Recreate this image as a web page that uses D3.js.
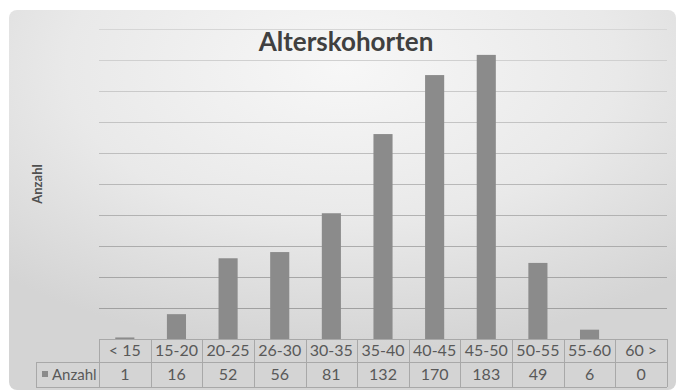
<!DOCTYPE html>
<html>
<head>
<meta charset="utf-8">
<script src="https://cdn.jsdelivr.net/npm/d3@7"></script>
<style>
  html, body { margin: 0; padding: 0; background: #ffffff; }
  svg { display: block; font-family: Lato, "Open Sans", sans-serif; }
</style>
</head>
<body>
<svg id="chart" width="679" height="392"></svg>
<script>
// Age cohorts and their counts
const categories = ["< 15", "15-20", "20-25", "26-30", "30-35", "35-40", "40-45", "45-50", "50-55", "55-60", "60 >"];
const counts = [1, 16, 52, 56, 81, 132, 170, 183, 49, 6, 0];
const seriesName = "Anzahl";
const yTicks = [20, 40, 60, 80, 100, 120, 140, 160, 180, 200];
const chartTitle = "Alterskohorten";
const axisTitle = "Anzahl";

const svg = d3.select("#chart");

// Chart area background: soft radial gradient, lighter near the title
const defs = svg.append("defs");
const grad = defs.append("radialGradient")
  .attr("id", "bg")
  .attr("cx", "50%").attr("cy", "15%").attr("r", "75%");
grad.append("stop").attr("offset", "0%").attr("stop-color", "#f7f7f7");
grad.append("stop").attr("offset", "55%").attr("stop-color", "#e9e9e9");
grad.append("stop").attr("offset", "100%").attr("stop-color", "#d4d4d4");

svg.append("rect")
  .attr("x", 9).attr("y", 10)
  .attr("width", 667).attr("height", 380)
  .attr("rx", 8)
  .attr("fill", "url(#bg)");

const plotLeft = 99, plotRight = 667, plotTop = 28.5, plotBottom = 339;

const x = d3.scaleBand().domain(categories).range([plotLeft, plotRight]).padding(0);
const y = d3.scaleLinear().domain([0, 200]).range([plotBottom, plotTop]);

// Horizontal gridlines, shading from light at the top to darker lower down
const lineColor = d3.scaleLinear().domain([200, 0]).range(["#d6d6d6", "#9a9a9a"]);
svg.append("g").selectAll("line")
  .data(yTicks)
  .join("line")
  .attr("x1", plotLeft).attr("x2", plotRight)
  .attr("y1", d => Math.round(y(d)) + 0.5)
  .attr("y2", d => Math.round(y(d)) + 0.5)
  .attr("stroke", d => lineColor(d))
  .attr("stroke-width", 1.2);

// Bars
const barW = x.bandwidth() * 0.37;
svg.append("g").selectAll("rect")
  .data(categories.map((c, i) => ({ c, v: counts[i] })))
  .join("rect")
  .attr("x", d => x(d.c) + (x.bandwidth() - barW) / 2)
  .attr("y", d => y(d.v))
  .attr("width", barW)
  .attr("height", d => y(0) - y(d.v))
  .attr("fill", "#8b8b8b");

// Title
svg.append("text")
  .attr("x", 346).attr("y", 51)
  .attr("text-anchor", "middle")
  .attr("font-size", 26).attr("font-weight", 700)
  .attr("fill", "#404040")
  .text(chartTitle);

// Vertical axis title
svg.append("text")
  .attr("transform", "translate(42,184) rotate(-90)")
  .attr("text-anchor", "middle")
  .attr("font-size", 13).attr("font-weight", 700)
  .attr("fill", "#505050")
  .text(axisTitle);

// Data table below the plot
const rowTop = 339, rowMid = 362, rowBottom = 387;
const legendLeft = 36;
const tableStroke = "#a8a8a8";
const table = svg.append("g").attr("stroke", tableStroke).attr("stroke-width", 1).attr("fill", "none");

// horizontal table rules
table.append("line").attr("x1", plotLeft).attr("x2", plotRight).attr("y1", rowTop + 0.5).attr("y2", rowTop + 0.5);
table.append("line").attr("x1", legendLeft).attr("x2", plotRight).attr("y1", rowMid + 0.5).attr("y2", rowMid + 0.5);
table.append("line").attr("x1", legendLeft).attr("x2", plotRight).attr("y1", rowBottom + 0.5).attr("y2", rowBottom + 0.5);
// vertical table rules at column boundaries
const bounds = categories.map(c => x(c)).concat([plotRight]);
table.selectAll("line.v")
  .data(bounds)
  .join("line")
  .attr("class", "v")
  .attr("x1", d => Math.round(d) + 0.5).attr("x2", d => Math.round(d) + 0.5)
  .attr("y1", rowTop).attr("y2", rowBottom);
table.append("line")
  .attr("x1", legendLeft + 0.5).attr("x2", legendLeft + 0.5)
  .attr("y1", rowMid).attr("y2", rowBottom);

const txt = svg.append("g").attr("font-size", 16).attr("fill", "#595959").attr("text-anchor", "middle");
txt.selectAll("text.cat")
  .data(categories)
  .join("text")
  .attr("class", "cat")
  .attr("x", d => x(d) + x.bandwidth() / 2)
  .attr("y", 356)
  .text(d => d);
txt.selectAll("text.val")
  .data(categories.map((c, i) => ({ c, v: counts[i] })))
  .join("text")
  .attr("class", "val")
  .attr("x", d => x(d.c) + x.bandwidth() / 2)
  .attr("y", 380)
  .text(d => d.v);

// Legend key in the value row
svg.append("rect")
  .attr("x", 42).attr("y", 371)
  .attr("width", 6).attr("height", 6)
  .attr("fill", "#8b8b8b");
svg.append("text")
  .attr("x", 52).attr("y", 380)
  .attr("font-size", 15).attr("fill", "#595959")
  .text(seriesName);
</script>
</body>
</html>
